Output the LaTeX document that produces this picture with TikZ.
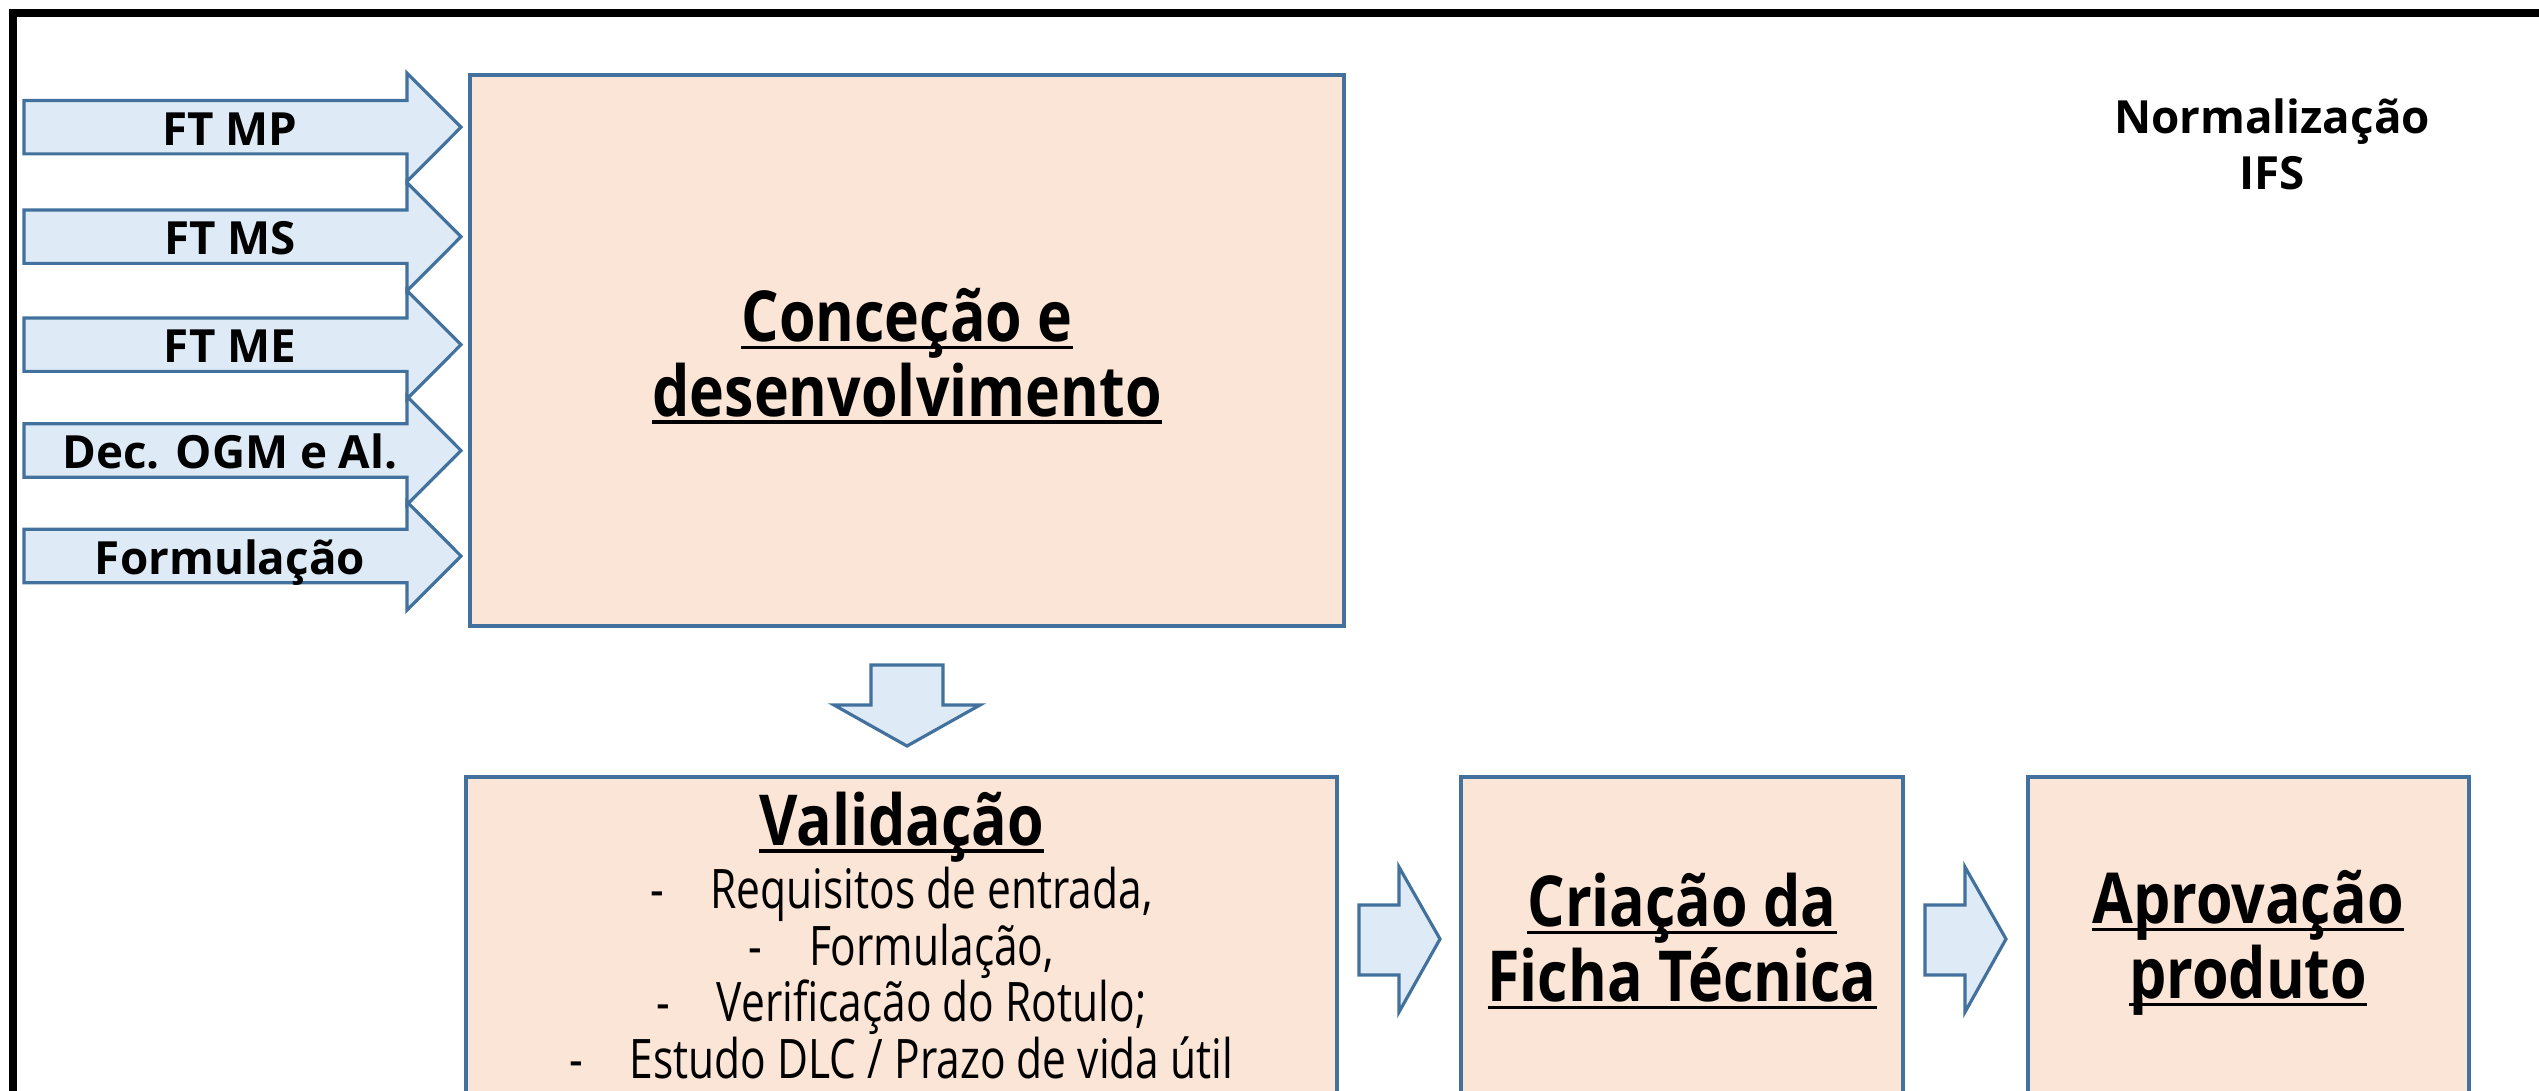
\documentclass[tikz,border=0pt]{standalone}
\usepackage{fontspec}
\setmainfont{Open Sans}
\newfontfamily\condbold[FakeStretch=0.84]{Open Sans}
\newfontfamily\condreg[FakeStretch=0.78]{Open Sans}
\newfontfamily\lblfont{Open Sans}
\definecolor{boxfill}{HTML}{FBE5D6}
\definecolor{boxline}{HTML}{41719C}
\definecolor{arrfill}{HTML}{DEEBF7}
\newcommand\ulx[1]{\setbox0\hbox{#1}\rlap{\rule[-0.11em]{\wd0}{0.05em}}\box0}
\newcommand\dashitem[1]{\makebox[0.6cm][l]{-}#1}
\begin{document}
\begin{tikzpicture}[x=0.01cm,y=-0.01cm,
  stagebox/.style={draw=boxline,fill=boxfill,line width=0.9pt},
  blockarrow/.style={draw=boxline,fill=arrfill,line width=0.9pt,line join=miter},
  inlabel/.style={font=\lblfont\fontsize{13}{15.6}\selectfont\bfseries,inner sep=0pt},
  title/.style={font=\fontsize{20}{21.3}\selectfont\condbold\bfseries,align=center,inner sep=0pt},
  valtext/.style={font=\fontsize{15.5}{16.2}\selectfont\condreg,align=center,inner sep=0pt}]
\useasboundingbox (0,0) rectangle (2539,1090);
\begin{scope}
\clip (0,0) rectangle (2539,1090);
% outer frame (cut by the page at right and bottom)
\draw[line width=2.3pt,line join=miter] (13.3,1200) -- (13.3,13.3) -- (2700,13.3);
% stage boxes
\draw[stagebox] (470,75) rectangle (1344,626);
\draw[stagebox] (466,777) rectangle (1337,1150);
\draw[stagebox] (1461,777) rectangle (1903,1150);
\draw[stagebox] (2028,777) rectangle (2469,1150);
% input block arrows
\foreach \cy/\nm/\lbl in {127.2/ftmp/FT MP,236.7/ftms/FT MS,344.7/ftme/FT ME,450.5/dec/Dec. OGM e Al.,556/form/Formulação}{
  \draw[blockarrow] (24,{\cy-26.7}) -- (407,{\cy-26.7}) -- (407,{\cy-54.2}) -- (461,\cy)
     -- (407,{\cy+54.2}) -- (407,{\cy+26.7}) -- (24,{\cy+26.7}) -- cycle;
  \node[inlabel,anchor=base] (\nm) at (230,{\cy+18}) {\lbl};
}
% down arrow
\draw[blockarrow] (871,665) -- (943,665) -- (943,705) -- (980,705) -- (907,746)
   -- (834,705) -- (871,705) -- cycle;
% right arrows
\foreach \dx in {0,566}{
  \draw[blockarrow] ({1359+\dx},905) -- ({1399+\dx},905) -- ({1399+\dx},867) -- ({1440+\dx},939)
     -- ({1399+\dx},1012) -- ({1399+\dx},975) -- ({1359+\dx},975) -- cycle;
}
\end{scope}
% texts
\node[title] (conc) at (907,356) {\ulx{Conceção e}\\\ulx{desenvolvimento}};
\node[title] (cria) at (1682,941) {\ulx{Criação da}\\\ulx{Ficha Técnica}};
\node[title] (aprov) at (2248,943) {\ulx{Aprovação}\\\ulx{produto}};
\node[valtext,anchor=north] (valid) at (901.5,791)
  {{\fontsize{20}{21.3}\selectfont\condbold\bfseries\ulx{Validação}}\\[0.3pt]
   \dashitem{Requisitos de entrada,}\\
   \dashitem{Formulação,}\\
   \dashitem{Verificação do Rotulo;}\\
   \dashitem{Estudo DLC / Prazo de vida útil}};
\node[font=\lblfont\fontsize{13}{15.9}\selectfont\bfseries,align=center,inner sep=0pt] (norm) at (2272,144) {Normalização\\IFS};
\end{tikzpicture}
\end{document}
